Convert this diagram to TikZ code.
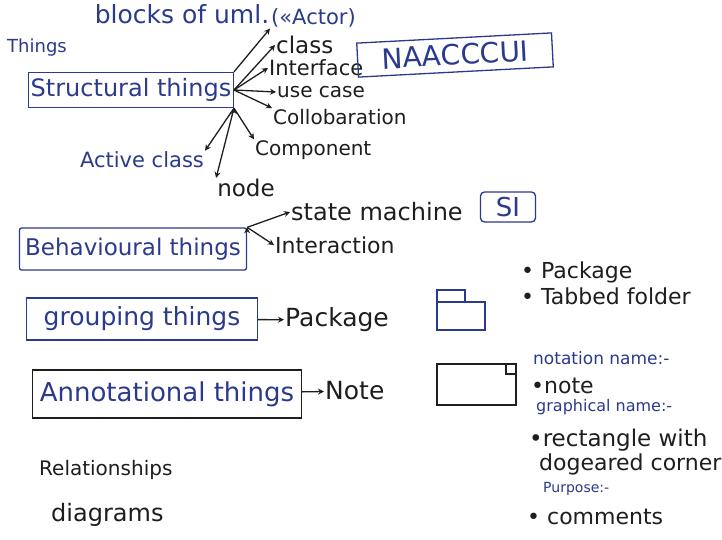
\documentclass[tikz,border=0pt]{standalone}
\usepackage{fontspec}
\setmainfont{DejaVu Sans}
\usetikzlibrary{arrows.meta, positioning}
\definecolor{inkblue}{HTML}{2B3A8C}
\definecolor{inkblack}{HTML}{1E1E1E}

\begin{document}
\begin{tikzpicture}[x=1pt, y=-1pt, >={Stealth[length=6pt, width=6pt]},
    fs/.style = {font=\fontsize{#1}{#1}\selectfont},
    ink/.style = {text=inkblack, fs=20, inner sep=1pt},
    blueink/.style = {text=inkblue, fs=20, inner sep=1pt},
    thing/.style = {draw=inkblue, line width=1.3pt, text=inkblue, inner sep=2pt},
    link/.style = {->, line width=1.3pt, draw=inkblack}]
      \useasboundingbox[fill=white] (0,0) rectangle (722,539);

      % heading
      \node[blueink, fs=25] (blocks) at (182,14) {blocks of uml.};
      \node[blueink, fs=18, anchor=west] (things) at (6,48) {Things};

      % structural things
      \node[thing, fs=24, minimum width=202, minimum height=35] (struct) at (131,90) {Structural things};
      \node[blueink, fs=21, anchor=west] (actor) at (270,18) {(«Actor)};
      \node[ink, fs=23, anchor=west] (class) at (275,45) {class};
      \node[ink, fs=21, anchor=west] (iface) at (268,68) {Interface};
      \node[ink, anchor=west] (usecase) at (276,92) {use case};
      \node[ink, anchor=west] (collab) at (272,117) {Collobaration};
      \node[ink, anchor=west] (comp) at (254,150) {Component};
      \node[ink, fs=23] (nodeitem) at (246,188) {node};
      \node[blueink, fs=21] (active) at (142,160) {Active class};
      \node[thing, fs=28, rotate=3, minimum width=195, minimum height=34] (naac) at (455,55) {NAACCCUI};

      \path[link]
      (struct.north east) edge (actor.south west)
      (struct.east)       edge (class.west)
      (struct.east)       edge (iface.west)
      (struct.east)       edge (usecase.west)
      (struct.east)       edge (collab.north west)
      (struct.south east) edge (comp.north west)
      (struct.south east) edge (nodeitem.north west)
      (struct.south east) edge (active.north east);

      % behavioural things
      \node[thing, fs=23, rounded corners=2pt, minimum width=227, minimum height=42] (behav) at (133,249) {Behavioural things};
      \node[ink, fs=24, anchor=west] (state) at (290,212) {state machine};
      \node[ink, fs=22, anchor=west] (interact) at (274,245) {Interaction};
      \node[thing, fs=26, rounded corners=4pt, minimum width=55, minimum height=30] (si) at (508,207) {SI};

      \path[link]
      (behav.north east) edge (state.west)
      (behav.north east) edge (interact.west);

      % grouping things
      \node[thing, fs=25, minimum width=231, minimum height=42] (group) at (142,319) {grouping things};
      \node[ink, fs=25, anchor=west] (package) at (284,320) {Package};
      \draw[link] (group) -- (package);

      \draw[inkblue, line width=1.3pt] (437,302) rectangle (485,330);
      \draw[inkblue, line width=1.3pt] (437,302) -- (437,290) -- (465,290) -- (465,302);
      \node[ink, fs=22, anchor=west] (pkgdot) at (520,272) {• Package};
      \node[ink, fs=22, anchor=west] (tabbed) at (520,296) {• Tabbed folder};

      % annotational things
      \node[thing, draw=inkblack, fs=26, minimum width=269, minimum height=48] (annot) at (167,394) {Annotational things};
      \node[ink, fs=25, anchor=west] (note) at (324,391) {Note};
      \draw[link] (annot) -- (note);

      \draw[inkblack, line width=1.3pt] (437,364) rectangle (516,405);
      \draw[inkblack, line width=1.3pt] (506,364) rectangle (516,374);
      \node[blueink, fs=17, anchor=west] (notation) at (532,358) {notation name:-};
      \node[ink, fs=22, anchor=west] (notedot) at (530,386) {•note};
      \node[blueink, fs=16, anchor=west] (graphical) at (535,407) {graphical name:-};
      \node[ink, fs=23, anchor=west] (rect) at (528,440) {•rectangle with};
      \node[ink, fs=22, anchor=west] (dog) at (538,464) {dogeared corner};
      \node[blueink, fs=14, anchor=west] (purpose) at (542,489) {Purpose:-};
      \node[ink, fs=22, anchor=west] (comments) at (526,517) {• comments};

      % bottom
      \node[ink, anchor=west] (relat) at (38,470) {Relationships};
      \node[ink, fs=24, anchor=west] (diag) at (50,515) {diagrams};
    \end{tikzpicture}
\end{document}
